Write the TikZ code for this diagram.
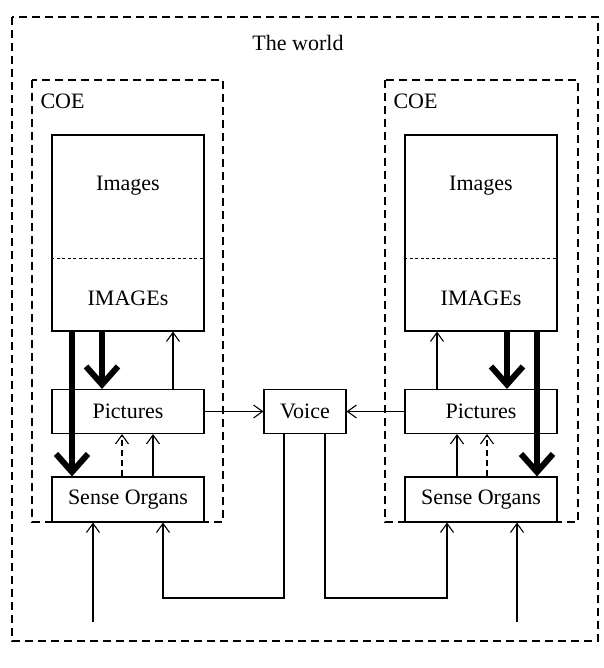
\documentclass[tikz,border=0pt]{standalone}
\usepackage{fontspec}
\setmainfont{Liberation Serif}
\usetikzlibrary{arrows.meta,calc}
\begin{document}
\begin{tikzpicture}[x=1pt,y=-1pt,
  font=\fontsize{22}{26}\selectfont,
  box/.style={draw, line width=1.1pt, minimum width=152pt, minimum height=44pt, inner sep=0pt},
  region/.style={draw, dash pattern=on 8pt off 5pt, line width=1.1pt},
  divider/.style={dash pattern=on 3pt off 2.5pt, line width=0.7pt},
  arr/.style={line width=1.1pt, -{Straight Barb[length=9pt,width=13pt]}},
  darr/.style={arr, dash pattern=on 6pt off 4pt},
  bigarr/.style={line width=6pt, -{Straight Barb[length=18pt,width=32pt]}}]
\useasboundingbox (0,0) rectangle (603,668);
% regions
\draw[region] (12,17) rectangle (598,641);
\node (world) at (298,43) {The world};
\draw[region] (32,80) rectangle (223,522);
\draw[region] (385,80) rectangle (578,522);
\node[anchor=west] (coeL) at (37,101) {COE};
\node[anchor=west] (coeR) at (390,101) {COE};
% left column
\node[box, minimum height=196pt] (iL) at (128,233) {};
\draw[divider] (iL.west |- 0,258) -- (iL.east |- 0,258);
\node (imgL) at (128,186) {Images};
\node (IMGL) at (128,298) {IMAGEs};
\node[box] (pL) at (128,411.5) {Pictures};
\node[box, minimum height=45pt] (sL) at (128,499.5) {Sense Organs};
% right column
\node[box, minimum height=196pt] (iR) at (481,233) {};
\draw[divider] (iR.west |- 0,258) -- (iR.east |- 0,258);
\node (imgR) at (481,186) {Images};
\node (IMGR) at (481,298) {IMAGEs};
\node[box] (pR) at (481,411.5) {Pictures};
\node[box, minimum height=45pt] (sR) at (481,499.5) {Sense Organs};
% voice
\node[box, minimum width=82pt] (v) at (305,411.5) {Voice};
% left arrows
\draw[bigarr] ([xshift=-56pt]iL.south) -- ([xshift=-56pt]sL.north);
\draw[bigarr] ([xshift=-26pt]iL.south) -- ([xshift=-26pt]pL.north);
\draw[arr] ([xshift=45pt]pL.north) -- ([xshift=45pt]iL.south);
\draw[darr] ([xshift=-6pt]sL.north) -- ([xshift=-6pt]pL.south);
\draw[arr] ([xshift=25pt]sL.north) -- ([xshift=25pt]pL.south);
% right arrows
\draw[bigarr] ([xshift=56pt]iR.south) -- ([xshift=56pt]sR.north);
\draw[bigarr] ([xshift=26pt]iR.south) -- ([xshift=26pt]pR.north);
\draw[arr] ([xshift=-44pt]pR.north) -- ([xshift=-44pt]iR.south);
\draw[darr] ([xshift=6pt]sR.north) -- ([xshift=6pt]pR.south);
\draw[arr] ([xshift=-24pt]sR.north) -- ([xshift=-24pt]pR.south);
% voice connections
\draw[arr] (pL.east) -- (v.west);
\draw[arr] (pR.west) -- (v.east);
\coordinate (lb) at (0,598);
\coordinate (vL) at ([xshift=-21pt]v.south);
\coordinate (vR) at ([xshift=20pt]v.south);
\coordinate (sLb) at ([xshift=35pt]sL.south);
\coordinate (sRb) at ([xshift=-34pt]sR.south);
\draw[arr] (vL) -- (vL |- lb) -| (sLb);
\draw[arr] (vR) -- (vR |- lb) -| (sRb);
% outer inputs
\coordinate (fL) at (93,622);
\coordinate (fR) at (517,622);
\draw[arr] (fL) -- (fL |- sL.south);
\draw[arr] (fR) -- (fR |- sR.south);
\end{tikzpicture}
\end{document}
